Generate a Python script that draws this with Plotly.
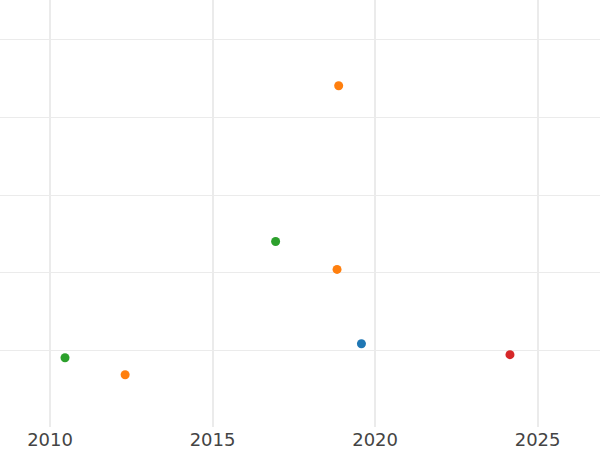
import plotly.graph_objects as go

# Series values
blue_x = [2019.58]
blue_y = [1.08]
orange_x = [2012.31, 2018.83, 2018.88]
orange_y = [0.68, 2.04, 4.41]
green_x = [2010.46, 2016.94]
green_y = [0.90, 2.40]
red_x = [2024.15]
red_y = [0.94]

x_ticks = [2010, 2015, 2020, 2025]

series = [
    ("A", blue_x, blue_y, "#1f77b4"),
    ("B", orange_x, orange_y, "#ff7f0e"),
    ("C", green_x, green_y, "#2ca02c"),
    ("D", red_x, red_y, "#d62728"),
]

fig = go.Figure()
for name, xs, ys, col in series:
    fig.add_trace(go.Scatter(x=xs, y=ys, mode="markers", name=name,
                             marker=dict(color=col, size=9, line=dict(width=0))))

fig.update_layout(
    width=600, height=450,
    margin=dict(l=0, r=0, t=0, b=23),
    paper_bgcolor="white", plot_bgcolor="white",
    showlegend=False,
    font=dict(family="DejaVu Sans", size=18, color="#444"),
    xaxis=dict(range=[2008.46, 2026.92], tickvals=x_ticks, ticktext=[str(v) for v in x_ticks],
               showgrid=True, gridcolor="#ebebeb", gridwidth=1.5, zeroline=False,
               showline=False, ticks=""),
    yaxis=dict(range=[0.0065, 5.516], dtick=1, showticklabels=False,
               showgrid=True, gridcolor="#ebebeb", gridwidth=1.2, zeroline=False,
               showline=False, ticks=""),
)

fig.write_html("out.html", config={"displayModeBar": False},
               post_script="document.body.style.margin='0';")
